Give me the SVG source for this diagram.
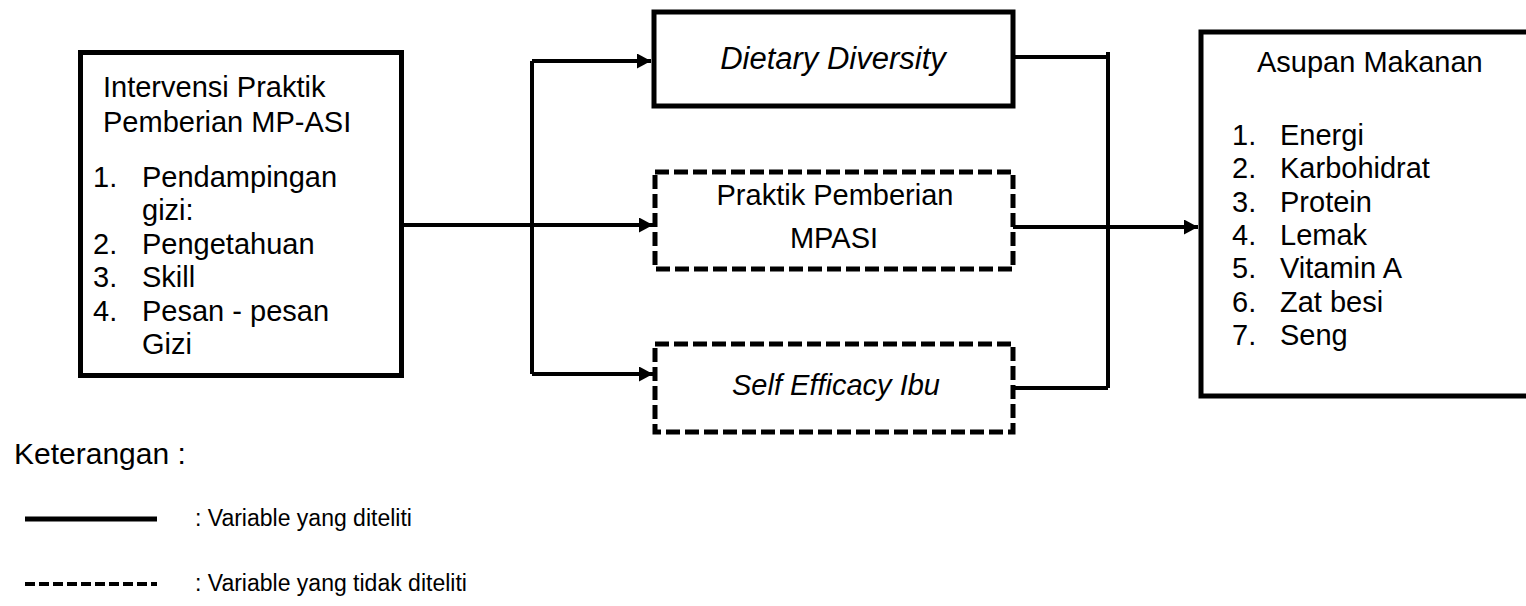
<svg xmlns="http://www.w3.org/2000/svg" width="1526" height="606" viewBox="0 0 1526 606">
<defs>
<style>
text{font-family:"Liberation Sans",Arial,sans-serif;fill:#000}
.t{font-size:29px}
.it{font-style:italic}
.mid{text-anchor:middle}
.lg{font-size:23px}
.box{fill:#fff;stroke:#000;stroke-width:5}
.dash{fill:#fff;stroke:#000;stroke-width:5;stroke-dasharray:14 5}
.ln{fill:none;stroke:#000;stroke-width:4}
</style>
<marker id="ah" viewBox="0 0 14 15" refX="14" refY="7.5" markerWidth="14" markerHeight="15" markerUnits="userSpaceOnUse" orient="auto">
<path d="M0,0 L14,7.5 L0,15 Z" fill="#000"/>
</marker>
</defs>
<rect width="1526" height="606" fill="#fff"/>

<g id="connectors">
<polyline class="ln" points="403,225 653,225" marker-end="url(#ah)"/>
<line class="ln" x1="532" y1="61" x2="532" y2="374"/>
<polyline class="ln" points="532,61 651,61" marker-end="url(#ah)"/>
<polyline class="ln" points="532,374 653,374" marker-end="url(#ah)"/>
<polyline class="ln" points="1013,57 1108,57"/>
<line class="ln" x1="1108" y1="52" x2="1108" y2="388"/>
<polyline class="ln" points="1012,388 1108,388"/>
<polyline class="ln" points="1013,227 1198,227" marker-end="url(#ah)"/>
</g>

<g id="intervensi">
<rect class="box" x="80.5" y="52.5" width="321" height="323"/>
<text class="t" x="103" y="97">Intervensi Praktik</text>
<text class="t" x="103" y="132">Pemberian MP-ASI</text>
<text class="t" x="93" y="187">1.</text><text class="t" x="142" y="187">Pendampingan</text>
<text class="t" x="142" y="220">gizi:</text>
<text class="t" x="93" y="253.5">2.</text><text class="t" x="142" y="253.5">Pengetahuan</text>
<text class="t" x="93" y="287">3.</text><text class="t" x="142" y="287">Skill</text>
<text class="t" x="93" y="320.5">4.</text><text class="t" x="142" y="320.5">Pesan - pesan</text>
<text class="t" x="142" y="354">Gizi</text>
</g>

<g id="dietary">
<rect class="box" x="654" y="12" width="359" height="94"/>
<text class="t it mid" x="833" y="69" style="font-size:31px">Dietary Diversity</text>
</g>

<g id="praktik">
<rect class="dash" x="655" y="172" width="358" height="97"/>
<text class="t mid" x="835" y="205">Praktik Pemberian</text>
<text class="t mid" x="834" y="248">MPASI</text>
</g>

<g id="selfefficacy">
<rect class="dash" x="655" y="344" width="358" height="88"/>
<text class="t it mid" x="836" y="395">Self Efficacy Ibu</text>
</g>

<g id="asupan">
<rect class="box" x="1201" y="32" width="400" height="364"/>
<text class="t" x="1257" y="72">Asupan Makanan</text>
<text class="t" x="1232" y="145">1.</text><text class="t" x="1280" y="145">Energi</text>
<text class="t" x="1232" y="178">2.</text><text class="t" x="1280" y="178">Karbohidrat</text>
<text class="t" x="1232" y="211.5">3.</text><text class="t" x="1280" y="211.5">Protein</text>
<text class="t" x="1232" y="245">4.</text><text class="t" x="1280" y="245">Lemak</text>
<text class="t" x="1232" y="278">5.</text><text class="t" x="1280" y="278">Vitamin A</text>
<text class="t" x="1232" y="311.5">6.</text><text class="t" x="1280" y="311.5">Zat besi</text>
<text class="t" x="1232" y="345">7.</text><text class="t" x="1280" y="345">Seng</text>
</g>

<g id="legend">
<text class="t" x="14" y="464" style="font-size:30px">Keterangan :</text>
<line x1="25" y1="519" x2="157" y2="519" stroke="#000" stroke-width="5"/>
<text class="lg" x="195" y="526">: Variable yang diteliti</text>
<line x1="25" y1="584" x2="157" y2="584" stroke="#000" stroke-width="4" stroke-dasharray="10 4"/>
<text class="lg" x="195" y="591">: Variable yang tidak diteliti</text>
</g>
</svg>
